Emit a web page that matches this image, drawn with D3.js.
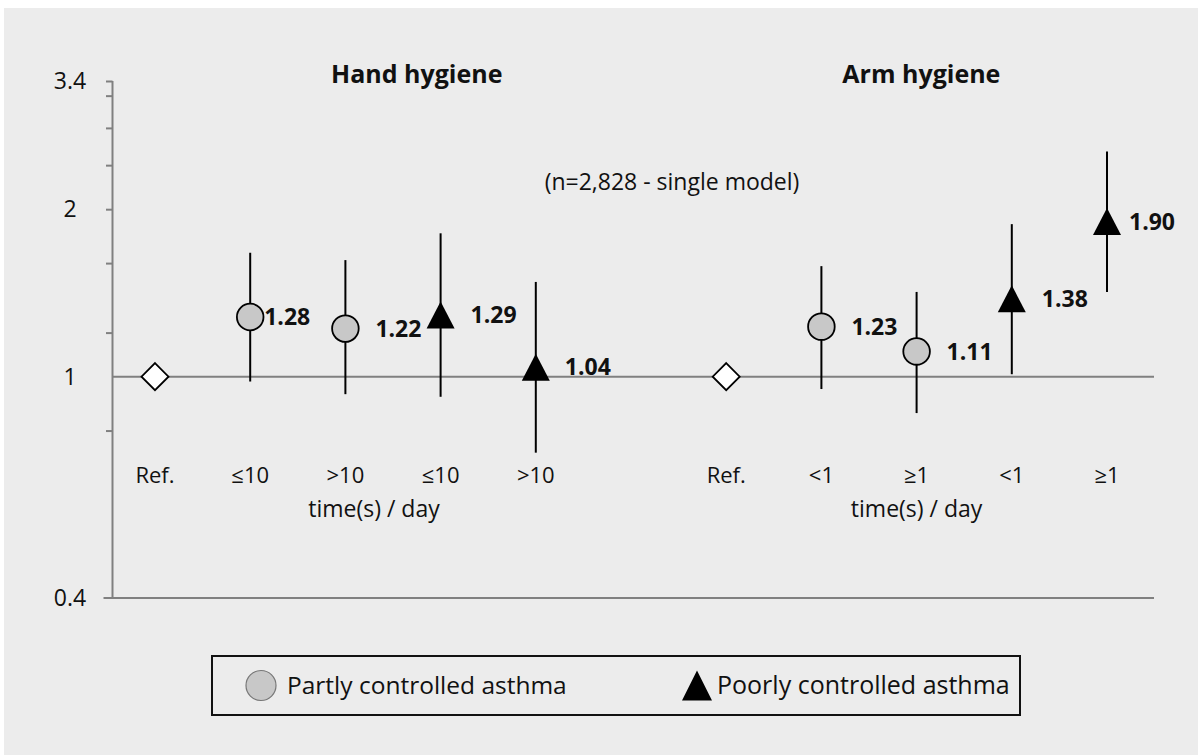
<!DOCTYPE html>
<html>
<head>
<meta charset="UTF-8">
<title>Hygiene and asthma control</title>
<script src="https://d3js.org/d3.v7.min.js"></script>
<style>
  body { margin: 0; background: #fff; }
  svg text { font-family: "Open Sans", "DejaVu Sans", sans-serif; fill: #111; }
  .val { font-weight: bold; font-size: 23px; }
  .ttl { font-weight: bold; font-size: 25px; }
</style>
</head>
<body>
<svg id="chart" width="1198" height="755"></svg>
<script>
// ---- data ----
const groups = ["Hand hygiene", "Arm hygiene"];
const slots = [0, 1, 2, 3, 4, 6, 7, 8, 9, 10];            // slot 5 is the gap between groups
const categories = ["Ref.", "≤10", ">10", "≤10", ">10", "Ref.", "<1", "≥1", "<1", "≥1"];
const series = ["ref", "partly", "partly", "poorly", "poorly", "ref", "partly", "partly", "poorly", "poorly"];
const oddsRatio = [1, 1.28, 1.22, 1.29, 1.04, 1, 1.23, 1.11, 1.38, 1.90];
const ciLow  = [null, 0.98, 0.93, 0.92, 0.73, null, 0.95, 0.86, 1.01, 1.42];
const ciHigh = [null, 1.67, 1.62, 1.81, 1.48, null, 1.58, 1.42, 1.88, 2.54];
const yLabels = [0.4, 1, 2, 3.4];
const yMinor = [0.8, 1.2, 1.6, 2, 2.4, 2.8, 3.2, 3.4];
const legendNames = ["Partly controlled asthma", "Poorly controlled asthma"];
const subtitle = "(n=2,828 - single model)";
const unitLabel = "time(s) / day";

// label nudges (px), the original puts some labels closer to the marker
const labelDx = [0, 14, 30, 30, 29, 0, 30, 30, 30, 22];

const svg = d3.select("#chart");
const axisCol = "#808080";

// grey panel
svg.append("rect").attr("x", 4).attr("y", 8).attr("width", 1194).attr("height", 747).attr("fill", "#ececec");

const x = d3.scaleLinear().domain([0, 10]).range([155, 1107]);
const y = d3.scaleLog().domain([0.4, 3.4]).range([598, 81]);
const axisX = 112.5, rightX = 1154;

// y axis with minor ticks
const yAxis = svg.append("g").attr("transform", `translate(${axisX},0)`)
  .call(d3.axisLeft(y).tickValues(yMinor).tickSize(6.5).tickFormat(""));
yAxis.select(".domain").remove();
yAxis.selectAll(".tick line").attr("stroke", axisCol).attr("stroke-width", 2);
svg.append("line").attr("x1", axisX).attr("x2", axisX).attr("y1", y(3.4)).attr("y2", y(0.4))
  .attr("stroke", axisCol).attr("stroke-width", 2);

svg.append("g").selectAll("text").data(yLabels).join("text")
  .attr("x", 70).attr("y", d => y(d)).attr("dy", "0.35em")
  .attr("text-anchor", "middle").style("font-size", "23px")
  .text(d => d);

// baseline at 0.4 and reference line at 1
svg.append("line").attr("x1", axisX - 9).attr("x2", rightX).attr("y1", y(0.4)).attr("y2", y(0.4))
  .attr("stroke", axisCol).attr("stroke-width", 2);
svg.append("line").attr("x1", axisX).attr("x2", rightX).attr("y1", y(1)).attr("y2", y(1))
  .attr("stroke", axisCol).attr("stroke-width", 2);

// titles
svg.append("text").attr("class", "ttl").attr("x", x(2.75)).attr("y", 83).attr("text-anchor", "middle").text(groups[0]);
svg.append("text").attr("class", "ttl").attr("x", x(8.05)).attr("y", 83).attr("text-anchor", "middle").text(groups[1]);
svg.append("text").attr("x", 672).attr("y", 190).attr("text-anchor", "middle").style("font-size", "23px").text(subtitle);

const pts = slots.map((s, i) => ({
  slot: s, cat: categories[i], ser: series[i], v: oddsRatio[i], lo: ciLow[i], hi: ciHigh[i], dx: labelDx[i]
}));

// category labels
svg.append("g").selectAll("text").data(pts).join("text")
  .attr("x", d => x(d.slot)).attr("y", 483).attr("text-anchor", "middle")
  .style("font-size", "22px").text(d => d.cat);
[2.3, 8.0].forEach(s => {
  svg.append("text").attr("x", x(s)).attr("y", 517).attr("text-anchor", "middle")
    .style("font-size", "23px").text(unitLabel);
});

// error bars
svg.append("g").selectAll("line").data(pts.filter(d => d.lo != null)).join("line")
  .attr("x1", d => x(d.slot)).attr("x2", d => x(d.slot))
  .attr("y1", d => y(d.hi)).attr("y2", d => y(d.lo))
  .attr("stroke", "#000").attr("stroke-width", 2);

// markers
const triangle = (cx, cy, w, h) => `M${cx},${cy - h / 2}L${cx + w / 2},${cy + h / 2}L${cx - w / 2},${cy + h / 2}Z`;
const diamond = (cx, cy, r) => `M${cx},${cy - r}L${cx + r},${cy}L${cx},${cy + r}L${cx - r},${cy}Z`;

const mk = svg.append("g");
pts.forEach(d => {
  const cx = x(d.slot), cy = y(d.v);
  if (d.ser === "ref") {
    mk.append("path").attr("d", diamond(cx, cy, 13.5)).attr("fill", "#fff").attr("stroke", "#000").attr("stroke-width", 1.8);
  } else if (d.ser === "partly") {
    mk.append("circle").attr("cx", cx).attr("cy", cy).attr("r", 13.3)
      .attr("fill", "#c8c8c8").attr("stroke", "#000").attr("stroke-width", 1.8);
  } else {
    mk.append("path").attr("d", triangle(cx, cy, 28, 27)).attr("fill", "#000");
  }
});

// value labels
svg.append("g").selectAll("text").data(pts.filter(d => d.ser !== "ref")).join("text")
  .attr("class", "val").attr("x", d => x(d.slot) + d.dx).attr("y", d => y(d.v)).attr("dy", "0.36em")
  .text(d => d.v.toFixed(2));

// legend
const lg = svg.append("g");
lg.append("rect").attr("x", 212).attr("y", 656).attr("width", 808).attr("height", 59)
  .attr("fill", "none").attr("stroke", "#111").attr("stroke-width", 2);
lg.append("circle").attr("cx", 261).attr("cy", 685.5).attr("r", 15)
  .attr("fill", "#c8c8c8").attr("stroke", "#777").attr("stroke-width", 1.2);
lg.append("text").attr("x", 287).attr("y", 685.5).attr("dy", "0.35em").style("font-size", "24.5px").text(legendNames[0]);
lg.append("path").attr("d", triangle(697, 685.5, 30, 30)).attr("fill", "#000");
lg.append("text").attr("x", 717).attr("y", 685.5).attr("dy", "0.35em").style("font-size", "25px").text(legendNames[1]);
</script>
</body>
</html>
